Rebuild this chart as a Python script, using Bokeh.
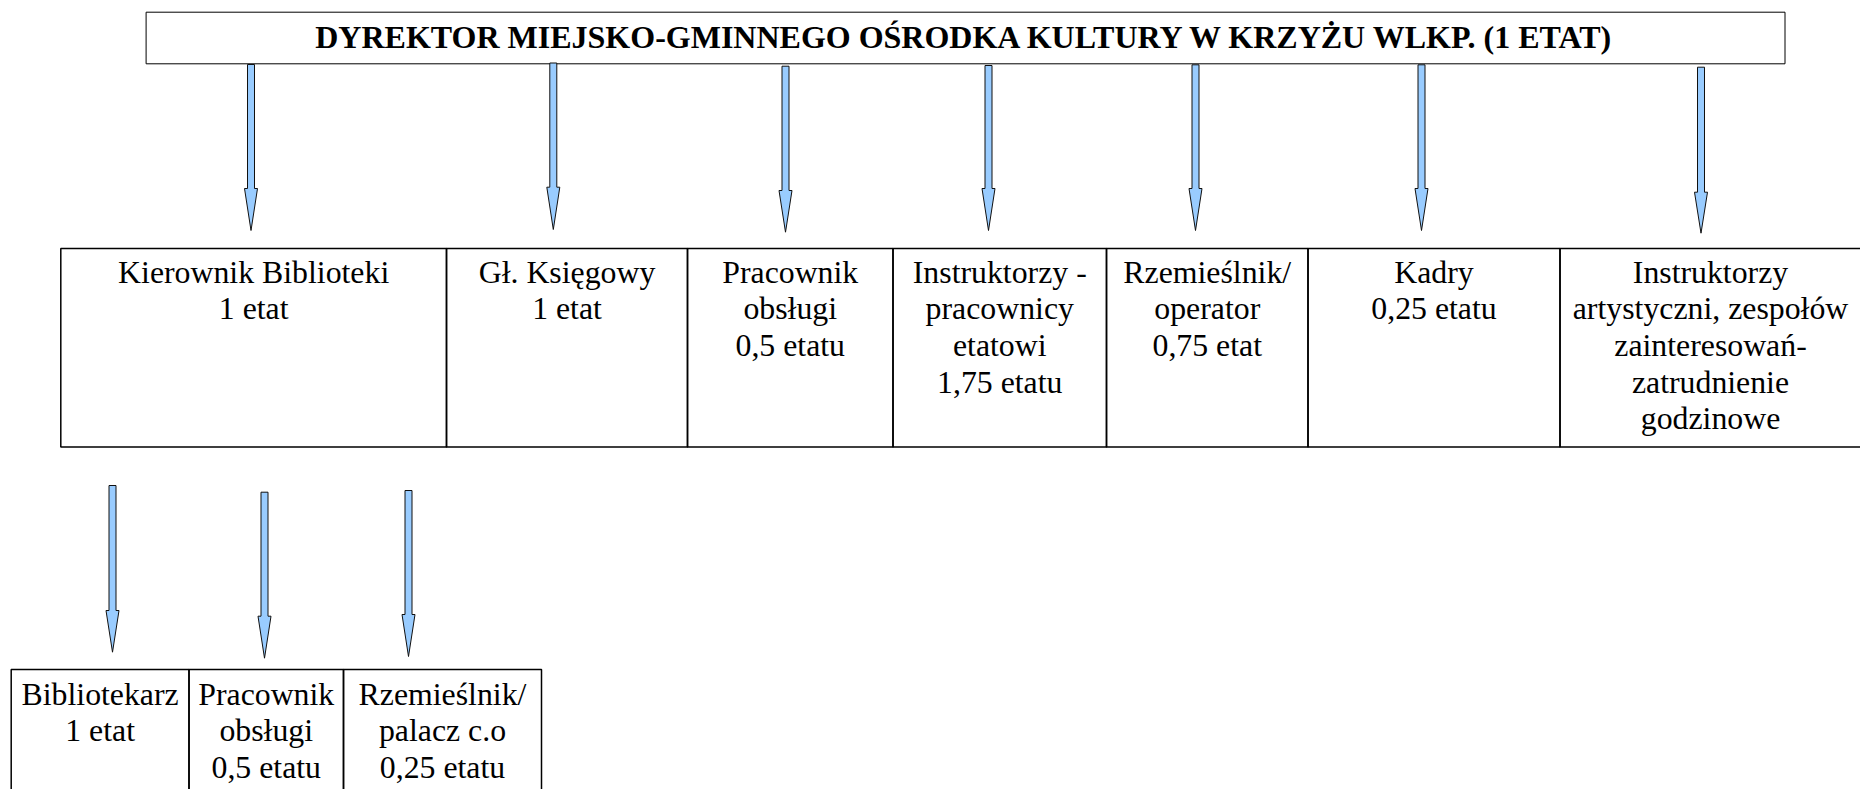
from bokeh.plotting import figure
from bokeh.models import Range1d
from bokeh.core.properties import value
from bokeh.embed import file_html
from bokeh.resources import INLINE

# ---------------- data ----------------
title = "DYREKTOR MIEJSKO-GMINNEGO OŚRODKA KULTURY W KRZYŻU WLKP. (1 ETAT)"

level1_labels = [
    "Kierownik Biblioteki\n1 etat",
    "Gł. Księgowy\n1 etat",
    "Pracownik\nobsługi\n0,5 etatu",
    "Instruktorzy -\npracownicy\netatowi\n1,75 etatu",
    "Rzemieślnik/\noperator\n0,75 etat",
    "Kadry\n0,25 etatu",
    "Instruktorzy\nartystyczni, zespołów\nzainteresowań-\nzatrudnienie\ngodzinowe",
]

level2_labels = [
    "Bibliotekarz\n1 etat",
    "Pracownik\nobsługi\n0,5 etatu",
    "Rzemieślnik/\npalacz c.o\n0,25 etatu",
]

# ---------------- layout (page pixels) ----------------
W, H = 1860, 789
title_box = (145.6, 1784.5, 11.7, 63.3)  # left, right, top, bottom
title_y = 36

row1_edges = [60.3, 446, 687, 892.5, 1106, 1307.5, 1559.5, 1866]
row1_top, row1_bottom = 248, 446.5
row1_text_x = [None, None, None, None, None, None, 1710]
row1_first_y = 271.5
line_step = 36.7

row2_edges = [10.7, 188.5, 343, 541]
row2_top, row2_bottom = 669, 840
row2_first_y = 693.5

arrows1_x = [250.5, 552.8, 785, 988, 1195, 1421, 1700.5]
arrows1_y0 = [64, 62.5, 65.7, 65, 64.3, 64.3, 66.7]
arrows1_yh = [188, 186.7, 190, 188, 188, 188, 191.7]
arrows1_tip = [230, 229, 231.7, 230, 230, 230, 232.7]

arrows2_x = [112, 264, 408]
arrows2_y0 = [485, 491.7, 490]
arrows2_yh = [610, 615.7, 614]
arrows2_tip = [651.7, 657.7, 656]

shaft_w = 7
head_w = 13
arrow_fill = "#99ccff"
FONT = "Liberation Serif"
FS_TITLE = "32px"
FS = "31.8px"

p = figure(width=W, height=H, output_backend="svg", toolbar_location=None,
           x_range=Range1d(0, W), y_range=Range1d(H, 0),
           min_border=0, outline_line_color=None, background_fill_color="white",
           border_fill_color="white")
p.axis.visible = False
p.xgrid.visible = False
p.ygrid.visible = False

# title box
l, r, t, b = title_box
p.quad(left=[l], right=[r], top=[t], bottom=[b], fill_color=None,
       line_color="black", line_width=1)
p.text(x=[(l + r) / 2], y=[title_y], text=[title],
       text_font=value(FONT), text_font_style="bold", text_font_size=FS_TITLE,
       text_align="center", text_baseline="alphabetic", text_color="black")


def arrow_polys(xs, y0s, yhs, tips):
    pxs, pys = [], []
    for x, y0, yh, yt in zip(xs, y0s, yhs, tips):
        sw, hw = shaft_w / 2, head_w / 2
        pxs.append([x - sw, x + sw, x + sw, x + hw, x, x - hw, x - sw])
        pys.append([y0, y0, yh, yh, yt, yh, yh])
    return pxs, pys


for ax, ay0, ayh, at in [(arrows1_x, arrows1_y0, arrows1_yh, arrows1_tip),
                         (arrows2_x, arrows2_y0, arrows2_yh, arrows2_tip)]:
    xs, ys = arrow_polys(ax, ay0, ayh, at)
    p.patches(xs=xs, ys=ys, fill_color=arrow_fill, line_color="#111111",
              line_width=1)


def draw_row(edges, top, bottom, labels, first_y, text_x=None):
    p.quad(left=edges[:-1], right=edges[1:], top=[top] * (len(edges) - 1),
           bottom=[bottom] * (len(edges) - 1), fill_color=None,
           line_color="black", line_width=1.5)
    tx, ty, tt = [], [], []
    for i, lab in enumerate(labels):
        cx = (edges[i] + edges[i + 1]) / 2
        if text_x is not None and text_x[i] is not None:
            cx = text_x[i]
        for j, line in enumerate(lab.split("\n")):
            tx.append(cx)
            ty.append(first_y + j * line_step)
            tt.append(line)
    p.text(x=tx, y=ty, text=tt, text_font=value(FONT), text_font_size=FS,
           text_align="center", text_baseline="alphabetic", text_color="black")


draw_row(row1_edges, row1_top, row1_bottom, level1_labels, row1_first_y,
         row1_text_x)
draw_row(row2_edges, row2_top, row2_bottom, level2_labels, row2_first_y)

open("out.html", "w").write(file_html(p, INLINE))
